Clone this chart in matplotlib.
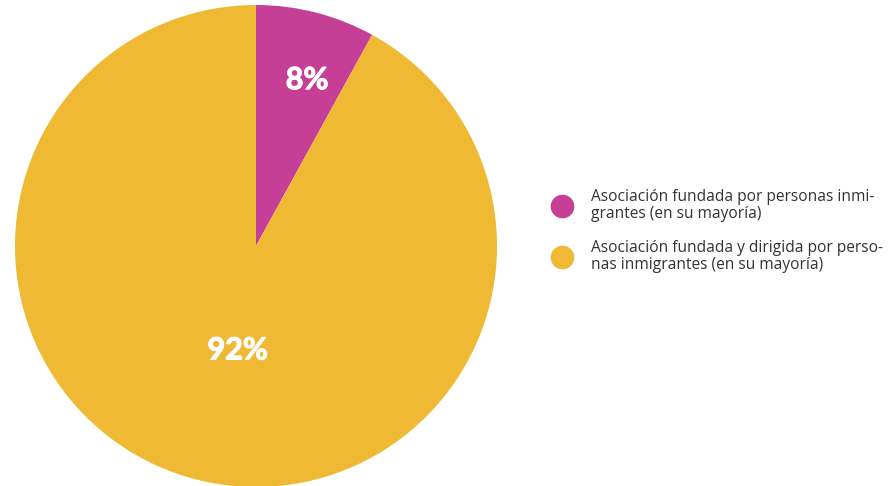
import matplotlib
matplotlib.use("Agg")
import matplotlib.pyplot as plt
import matplotlib.patheffects as pe
from matplotlib.lines import Line2D
import numpy as np

labels = [
    "Asociación fundada por personas inmi-\ngrantes (en su mayoría)",
    "Asociación fundada y dirigida por perso-\nnas inmigrantes (en su mayoría)",
]
values = [8, 92]
colors = ["#C53F97", "#F0B933"]
# label placement (radius, angle in degrees)
label_radius = [0.72, 0.44]
label_angle = [72.9, 260.0]

fig = plt.figure(figsize=(8.96, 4.86), dpi=100)
ax = fig.add_axes([15 / 896, -1 / 486, 482 / 896, 482 / 486])
wedges, _ = ax.pie(values, colors=colors, startangle=90, counterclock=False,
                   radius=1, wedgeprops=dict(linewidth=0))
ax.set_xlim(-1, 1)
ax.set_ylim(-1, 1)
ax.set_aspect("equal")

for v, r, a in zip(values, label_radius, label_angle):
    t = np.deg2rad(a)
    ax.text(r * np.cos(t), r * np.sin(t), f"{v}%", ha="center", va="center",
            color="white", fontsize=22, fontweight="bold", family="Lato",
            path_effects=[pe.withStroke(linewidth=0.8, foreground="white")])

handles = [Line2D([], [], marker="o", linestyle="", markersize=16,
                  markerfacecolor=c, markeredgecolor=c) for c in colors]
leg = fig.legend(handles, labels, loc="center left",
                 bbox_to_anchor=(540 / 896, 1 - 231 / 486),
                 frameon=False, prop={"family": "Open Sans", "size": 11.2},
                 labelcolor="#333333", handletextpad=0.85, labelspacing=1.2,
                 borderaxespad=0)
for t in leg.get_texts():
    t.set_linespacing(1.05)

fig.savefig("out.png", dpi=100)
